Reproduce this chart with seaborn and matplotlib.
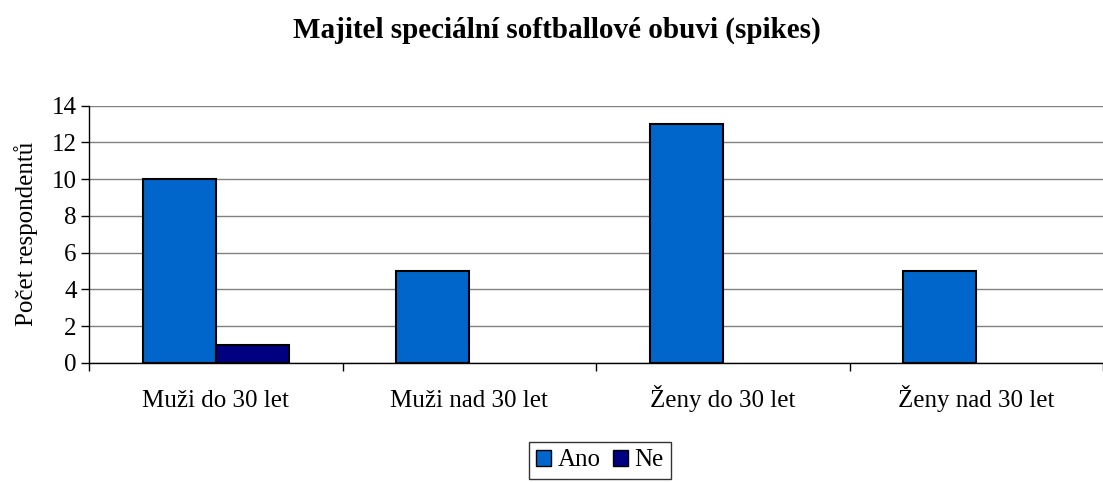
import numpy as np
import pandas as pd
import matplotlib
matplotlib.use("Agg")
import matplotlib.pyplot as plt
import seaborn as sns

# data
categories = ["Muži do 30 let", "Muži nad 30 let", "Ženy do 30 let", "Ženy nad 30 let"]
ano = [10, 5, 13, 5]
ne = [1, 0, 0, 0]
series = ["Ano", "Ne"]
colors = ["#0066CC", "#000080"]

DF = pd.DataFrame({
    "kategorie": categories * 2,
    "odpoved": ["Ano"] * 4 + ["Ne"] * 4,
    "pocet": ano + ne,
})

sns.set_style("white")
plt.rcParams["font.family"] = ["Liberation Serif", "DejaVu Serif"]
plt.rcParams["text.color"] = "black"
plt.rcParams["axes.labelcolor"] = "black"
plt.rcParams["xtick.color"] = "black"
plt.rcParams["ytick.color"] = "black"

fig = plt.figure(figsize=(11.03, 4.82), dpi=100)
ax = fig.add_axes([0.0807, 0.2469, 0.9193, 0.5338])

sns.barplot(data=DF, x="kategorie", y="pocet", hue="odpoved", hue_order=series,
            palette=colors, width=0.576, edgecolor="black", linewidth=1.5,
            saturation=1, ax=ax, legend=False)

# zero bars should not draw an outline on the axis
for p in ax.patches:
    if p.get_height() == 0:
        p.set_linewidth(0)

ax.set_ylim(0, 14)
ax.set_xlim(-0.5, 3.5)
ax.set_yticks(range(0, 15, 2))
ax.yaxis.grid(True, color="#808080", linewidth=1)
ax.set_axisbelow(True)
for s in ["top", "right"]:
    ax.spines[s].set_visible(False)
for s in ["left", "bottom"]:
    ax.spines[s].set_color("black")
    ax.spines[s].set_linewidth(1)

ax.tick_params(axis="y", left=True, direction="out", length=6, width=1, labelsize=18, pad=3)
ax.tick_params(axis="x", bottom=True, length=0, labelsize=18, pad=31.5)
ax.set_xticks(np.arange(-0.5, 4, 1), minor=True)
ax.tick_params(axis="x", which="minor", bottom=True, direction="out", length=6, width=1)
for lbl in ax.get_xticklabels():
    lbl.set_verticalalignment("baseline")

ax.set_xlabel("")
ax.set_ylabel("Počet respondentů", fontsize=18, labelpad=10)

fig.suptitle("Majitel speciální softballové obuvi (spikes)", fontsize=21,
             fontweight="bold", x=0.505, y=1 - 38 / 482, va="baseline")

handles = [plt.Rectangle((0, 0), 1, 1, facecolor=c, edgecolor="black", linewidth=1) for c in colors]
fig.legend(handles, series, loc="upper center", bbox_to_anchor=(0.544, 1 - 442 / 482),
           ncol=2, fontsize=18, frameon=True, fancybox=False, edgecolor="black",
           handlelength=0.6, handleheight=0.6, handletextpad=0.25, columnspacing=0.5,
           borderpad=0.3, borderaxespad=0)

fig.savefig("out.png", dpi=100)
